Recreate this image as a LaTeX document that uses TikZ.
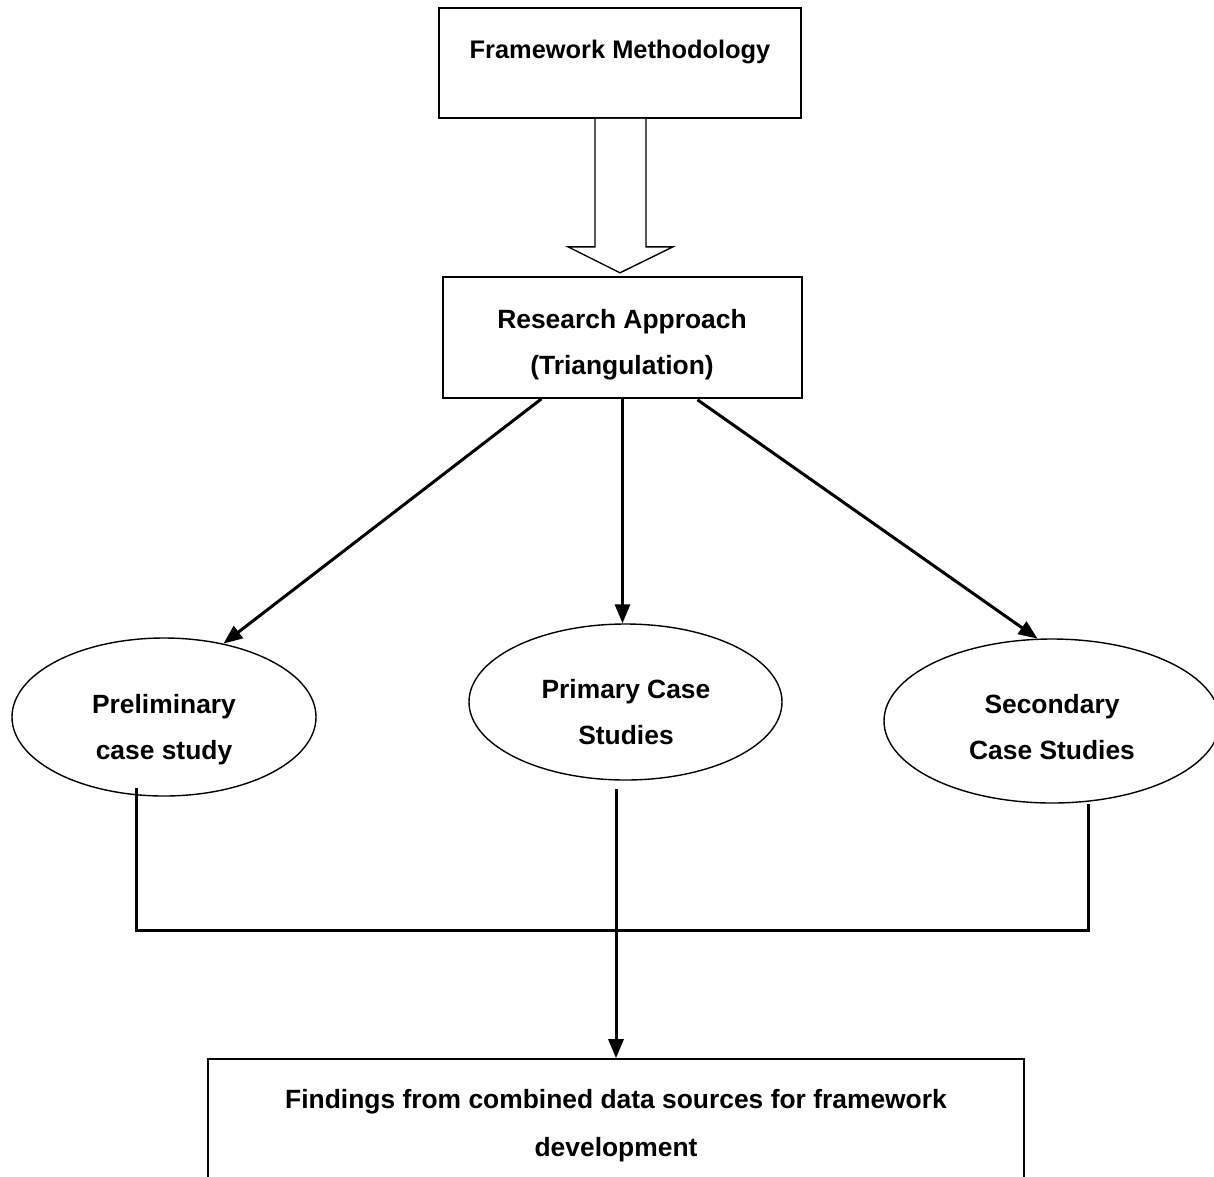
\documentclass[tikz,border=0pt]{standalone}
\usepackage{fontspec}
\setmainfont{Liberation Sans}
\usetikzlibrary{arrows.meta,shapes.geometric,calc}
\begin{document}
\begin{tikzpicture}[x=1pt,y=-1pt,
  box/.style={draw,line width=1.6pt,rectangle,inner sep=0pt},
  oval/.style={draw,line width=1.4pt,ellipse,inner sep=0pt},
  txt/.style={font=\bfseries\fontsize{26.4}{46}\selectfont,align=center,inner sep=0pt},
  conn/.style={line width=3pt},
  arr/.style={conn,-{Triangle[length=19pt,width=15pt]}},
  hollow/.style={draw,line width=1.4pt,fill=white,line join=miter}]
\useasboundingbox (0,0) rectangle (1214,1176);
% nodes
\node[box,minimum width=362pt,minimum height=110pt] (fm) at (620,63) {};
\node[box,minimum width=359pt,minimum height=121pt] (ra) at (622.5,337.5) {};
\node[oval,minimum width=304pt,minimum height=158pt] (e1) at (164,717) {};
\node[oval,minimum width=313pt,minimum height=156pt] (e2) at (625.5,702) {};
\node[oval,minimum width=336pt,minimum height=164pt] (e3) at (1052,721) {};
\node[box,minimum width=816pt,minimum height=126pt] (fd) at (616,1122) {};
% texts
\node[txt,font=\bfseries\fontsize{25.4}{46}\selectfont] (fmT) at (620,52) {Framework Methodology};
\node[txt] (raT) at (622,345) {Research Approach\\(Triangulation)};
\node[txt] (e1T) at (164,730) {Preliminary\\case study};
\node[txt] (e2T) at (626,712) {Primary Case\\Studies};
\node[txt] (e3T) at (1052,727) {Secondary\\Case Studies};
\node[txt,font=\bfseries\fontsize{26.4}{48}\selectfont] (fdT) at (616,1126) {Findings from combined data sources for framework\\development};
% hollow block arrow
\draw[hollow] ($(fm.south)+(-25,0)$) -- ($(fm.south)+(-25,128)$) -- ($(fm.south)+(-52,128)$)
  -- ($(fm.south)+(0,154)$) -- ($(fm.south)+(53,128)$) -- ($(fm.south)+(26,128)$) -- ($(fm.south)+(26,0)$);
% connectors
\draw[arr] ($(ra.south)+(-81,0)$) -- (e1.51);
\draw[arr] (ra.south) -- (ra.south |- e2.north);
\draw[arr] ($(ra.south)+(75,1)$) -- (e3.100);
\coordinate (s1) at ($(e1.south)+(-28,-9)$);
\coordinate (s3) at ($(e3.south)+(36,0)$);
\coordinate (jn) at (616,930);
\draw[conn,line join=miter] (s1) -- (s1 |- jn) -- (s3 |- jn) -- (s3);
\draw[arr] ($(fd.north |- e2.south)+(0,8)$) -- (fd.north);
\end{tikzpicture}
\end{document}
